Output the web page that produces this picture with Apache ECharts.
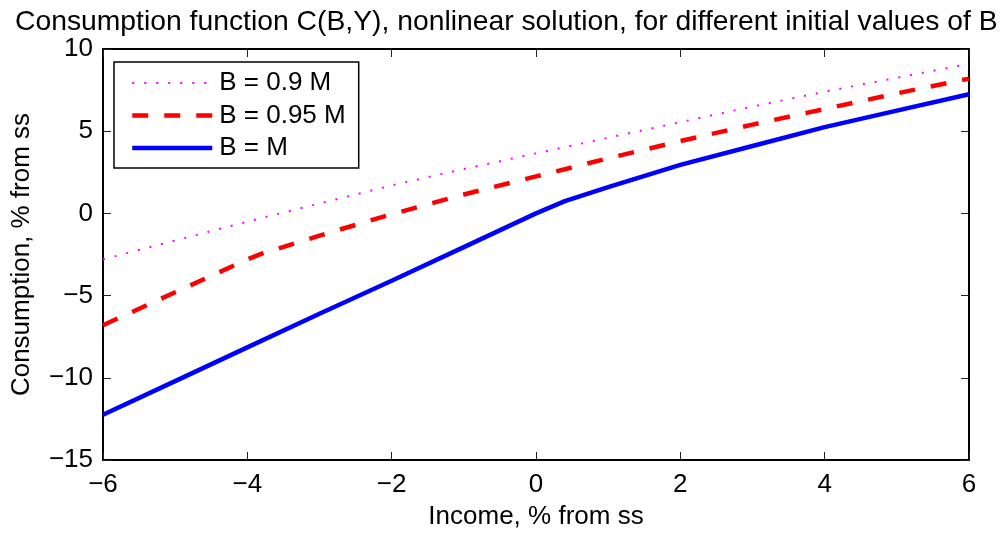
<!DOCTYPE html>
<html>
<head>
<meta charset="utf-8">
<script src="https://cdn.jsdelivr.net/npm/echarts@6/dist/echarts.min.js"></script>
<style>
  html, body { margin: 0; padding: 0; background: #fff; }
  #chart { width: 1006px; height: 535px; }
</style>
</head>
<body>
<div id="chart"></div>
<script>
// income (x, % from ss) and consumption (y, % from ss) per initial B
const incomeB09 = [-6, -5, -4, -3, -2, -1, 0, 1, 2, 3, 4, 5, 6];
const consB09 = [-2.8, -1.65, -0.5, 0.6, 1.7, 2.7, 3.65, 4.6, 5.55, 6.5, 7.4, 8.25, 9.1];

const incomeB095 = [-6, -5, -4, -3.8, -3, -2, -1, 0, 1, 2, 3, 4, 5, 6];
const consB095 = [-6.8, -4.8, -2.8, -2.45, -1.35, -0.05, 1.15, 2.25, 3.35, 4.4, 5.4, 6.35, 7.3, 8.2];

const incomeBM = [-6, -5, -4, -3, -2, -1, 0, 0.4, 1, 2, 3, 4, 5, 6];
const consBM = [-12.25, -10.2, -8.15, -6.1, -4.1, -2.05, 0.0, 0.75, 1.6, 2.95, 4.1, 5.25, 6.25, 7.25];

const seriesNames = ["B = 0.9 M", "B = 0.95 M", "B = M"];
const xTicks = { min: -6, max: 6, step: 2 };
const yTicks = { min: -15, max: 10, step: 5 };

const pairs = (xs, ys) => xs.map((x, i) => [x, ys[i]]);
const minus = (v) => (v < 0 ? "\u2212" + Math.abs(v) : String(v));

const FONT = "Liberation Sans, Arial, sans-serif";
const FS = 26;
const chart = echarts.init(document.getElementById("chart"), null, { renderer: "canvas" });

const axisCommon = {
  axisLine: { show: true, onZero: false, lineStyle: { color: "#000", width: 2 } },
  axisTick: { show: true, inside: true, length: 8, lineStyle: { color: "#222", width: 1 } },
  splitLine: { show: false },
};

chart.setOption({
  backgroundColor: "#fff",
  animation: false,
  title: {
    text: "Consumption function C(B,Y), nonlinear solution, for different initial values of B",
    left: 10,
    top: 3,
    textStyle: { fontFamily: FONT, fontSize: 28.3, fontWeight: "normal", color: "#000" },
  },
  grid: { left: 103, right: 37, top: 49, bottom: 73, containLabel: false },
  legend: {
    orient: "vertical",
    left: 114,
    top: 62,
    padding: [8, 13, 7, 16],
    itemWidth: 80,
    itemHeight: 20,
    itemGap: 6.5,
    borderColor: "#000",
    borderWidth: 1.5,
    backgroundColor: "#fff",
    itemStyle: { opacity: 0 },
    lineStyle: { width: "inherit" },
    textStyle: { fontFamily: FONT, fontSize: FS, color: "#000", padding: [0, 0, 0, 2] },
    data: seriesNames,
  },
  xAxis: [
    {
      type: "value",
      position: "bottom",
      min: xTicks.min,
      max: xTicks.max,
      interval: xTicks.step,
      name: "Income, % from ss",
      nameLocation: "middle",
      nameGap: 44,
      nameTextStyle: { fontFamily: FONT, fontSize: FS, color: "#000" },
      axisLabel: { fontFamily: FONT, fontSize: FS, color: "#000", margin: 12, formatter: minus },
      ...axisCommon,
    },
    {
      type: "value",
      position: "top",
      min: xTicks.min,
      max: xTicks.max,
      interval: xTicks.step,
      axisLabel: { show: false },
      ...axisCommon,
    },
  ],
  yAxis: [
    {
      type: "value",
      position: "left",
      min: yTicks.min,
      max: yTicks.max,
      interval: yTicks.step,
      name: "Consumption, % from ss",
      nameLocation: "middle",
      nameGap: 68,
      nameTextStyle: { fontFamily: FONT, fontSize: FS, color: "#000" },
      axisLabel: { fontFamily: FONT, fontSize: FS, color: "#000", margin: 10, formatter: minus },
      ...axisCommon,
    },
    {
      type: "value",
      position: "right",
      min: yTicks.min,
      max: yTicks.max,
      interval: yTicks.step,
      axisLabel: { show: false },
      ...axisCommon,
    },
  ],
  series: [
    {
      name: seriesNames[0],
      type: "line",
      data: pairs(incomeB09, consB09),
      symbol: "none",
      lineStyle: { color: "#ff00ff", width: 2, type: [2, 10] },
      itemStyle: { color: "#ff00ff" },
    },
    {
      name: seriesNames[1],
      type: "line",
      data: pairs(incomeB095, consB095),
      symbol: "none",
      lineStyle: { color: "#ff0000", width: 4.5, type: [16, 16] },
      itemStyle: { color: "#ff0000" },
    },
    {
      name: seriesNames[2],
      type: "line",
      data: pairs(incomeBM, consBM),
      symbol: "none",
      lineStyle: { color: "#0000ff", width: 4.5 },
      itemStyle: { color: "#0000ff" },
    },
  ],
});
</script>
</body>
</html>
